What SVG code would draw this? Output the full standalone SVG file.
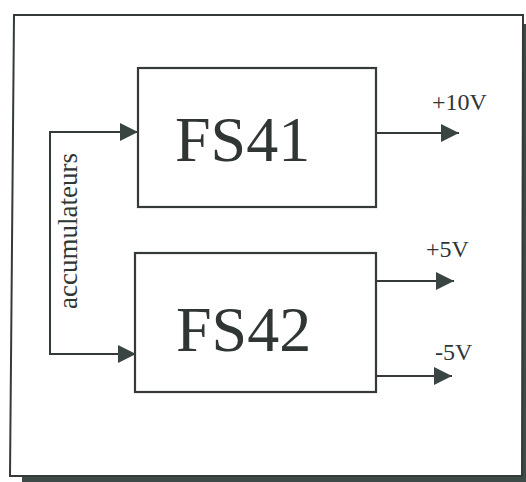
<svg xmlns="http://www.w3.org/2000/svg" width="526" height="482" viewBox="0 0 526 482">
<defs>
<style>
.ln{fill:none;stroke:#333a38;stroke-width:2}
.box{fill:#fff;stroke:#333a38;stroke-width:2.2}
.big{font-family:"Liberation Serif","Times New Roman",serif;font-size:64px;fill:#2f3634}
.lbl{font-family:"Liberation Serif","Times New Roman",serif;font-size:24px;fill:#2f3634}
.side{font-family:"Liberation Serif","Times New Roman",serif;font-size:27px;fill:#2f3634}
</style>
<marker id="ah" viewBox="0 0 18 18" refX="18" refY="9" markerWidth="18" markerHeight="18" markerUnits="userSpaceOnUse" orient="auto">
<path d="M0,0 L18,9 L0,18 Z" fill="#3a4543"/>
</marker>
</defs>
<rect width="526" height="482" fill="#fff"/>
<g id="frame">
<rect x="22" y="475" width="504" height="7" fill="#3d4a47"/>
<rect x="522" y="24" width="4" height="458" fill="#3d4a47"/>
<path d="M14,15 L523,15 L522,476 L10,476 Z" class="ln"/>
</g>
<g id="connectors">
<path d="M50,243 L50,132 L138,132" class="ln" marker-end="url(#ah)"/>
<path d="M50,243 L50,354 L136,354" class="ln" marker-end="url(#ah)"/>
<path d="M377,133 L459,133" class="ln" marker-end="url(#ah)"/>
<path d="M377,281 L454,281" class="ln" marker-end="url(#ah)"/>
<path d="M375,376 L452,376" class="ln" marker-end="url(#ah)"/>
</g>
<g id="FS41">
<rect x="138" y="68" width="238" height="139" class="box"/>
<text x="175" y="161" class="big">FS41</text>
</g>
<g id="FS42">
<rect x="135" y="253" width="241" height="139" class="box"/>
<text x="176" y="351" class="big">FS42</text>
</g>
<g id="labels">
<text x="432" y="110" class="lbl">+10V</text>
<text x="426" y="257" class="lbl">+5V</text>
<text x="435" y="360" class="lbl">-5V</text>
<text transform="translate(77,309) rotate(-90)" class="side">accumulateurs</text>
</g>
</svg>
